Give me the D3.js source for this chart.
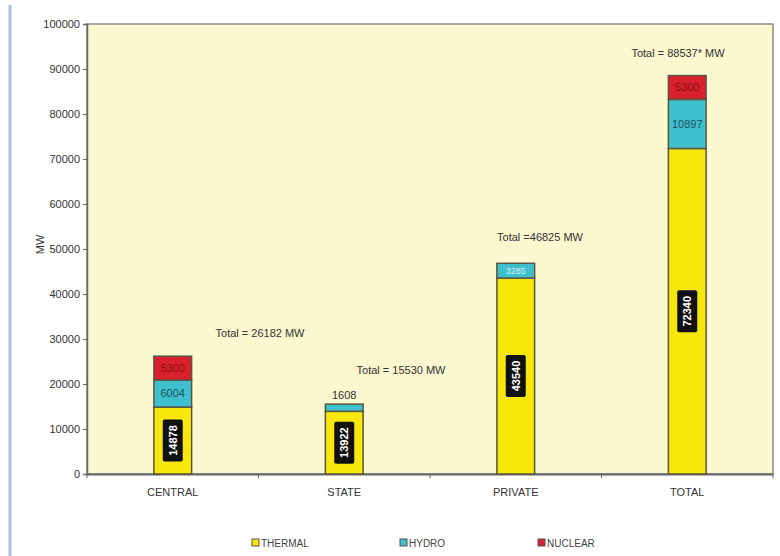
<!DOCTYPE html>
<html>
<head>
<meta charset="utf-8">
<script src="https://d3js.org/d3.v7.min.js"></script>
<style>
body { margin: 0; background: #fff; }
text { font-family: "Liberation Sans", Arial, sans-serif; }
</style>
</head>
<body>
<script>
// width and height of the page
var W = 780, H = 556;

// chart data
var sectors = ["CENTRAL", "STATE", "PRIVATE", "TOTAL"];
var thermal = [14878, 13922, 43540, 72340];
var hydro = [6004, 1608, 3285, 10897];
var nuclear = [5300, 0, 0, 5300];
var totalLabels = ["Total = 26182 MW", "Total = 15530 MW", "Total =46825 MW", "Total = 88537* MW"];
var yTicks = [0, 10000, 20000, 30000, 40000, 50000, 60000, 70000, 80000, 90000, 100000];
var seriesNames = ["THERMAL", "HYDRO", "NUCLEAR"];
var colors = ["#f7e70c", "#3fc0cf", "#d8202e"];

var margin = {left: 87, right: 7, top: 24, bottom: 82};

var svg = d3.select("body").append("svg")
	.attr("width", W)
	.attr("height", H);

// the blue line at the left of the picture
svg.append("line")
	.attr("x1", 10).attr("x2", 10)
	.attr("y1", 5).attr("y2", H)
	.style("stroke", "#a9c2de")
	.style("stroke-width", 3);

var x = d3.scaleBand()
	.domain(sectors)
	.range([margin.left, W - margin.right])
	.paddingInner(0.78)
	.paddingOuter(0.39);

var y = d3.scaleLinear()
	.domain([0, 100000])
	.range([H - margin.bottom, margin.top]);

// plot background
svg.append("rect")
	.attr("x", margin.left)
	.attr("y", margin.top)
	.attr("width", W - margin.right - margin.left)
	.attr("height", y(0) - margin.top)
	.style("fill", "#fbf7cf")
	.style("stroke", "#8a8a80")
	.style("stroke-width", 1.5);

// y axis
var yAxis = svg.append("g")
	.attr("transform", "translate(" + margin.left + ",0)")
	.call(d3.axisLeft(y).tickValues(yTicks).tickSize(4).tickFormat(d3.format("d")));
yAxis.select(".domain").style("stroke", "#666").style("stroke-width", 1.5);
yAxis.selectAll("line").style("stroke", "#666");
yAxis.selectAll("text").style("font-size", "11px").style("fill", "#333").attr("x", -7);

svg.append("text")
	.attr("transform", "translate(44," + y(51000) + ") rotate(-90)")
	.attr("text-anchor", "middle")
	.style("font-size", "11px")
	.style("fill", "#333")
	.text("MW");

// x axis
var xAxis = svg.append("g")
	.attr("transform", "translate(0," + y(0) + ")")
	.call(d3.axisBottom(x).tickSize(0).tickPadding(14));
xAxis.select(".domain").style("stroke", "#666").style("stroke-width", 2);
xAxis.selectAll("text").style("font-size", "11px").style("fill", "#333");

// small ticks between the categories
var step = x.step();
var bounds = d3.range(5).map(function(i) { return margin.left + i * step; });
svg.selectAll("line.xtick")
	.data(bounds)
	.enter().append("line")
	.attr("class", "xtick")
	.attr("x1", function(d) { return d; }).attr("x2", function(d) { return d; })
	.attr("y1", y(0)).attr("y2", y(0) + 4)
	.style("stroke", "#666");

// stacked segments
var rows = sectors.map(function(s, i) {
	return {name: s, thermal: thermal[i], hydro: hydro[i], nuclear: nuclear[i]};
});
var stack = d3.stack().keys(["thermal", "hydro", "nuclear"])(rows);

var layers = svg.selectAll("g.layer")
	.data(stack)
	.enter().append("g")
	.attr("class", "layer")
	.style("fill", function(d, i) { return colors[i]; });

layers.selectAll("rect")
	.data(function(d) { return d.filter(function(p) { return p[1] > p[0]; }); })
	.enter().append("rect")
	.attr("x", function(d) { return x(d.data.name); })
	.attr("width", x.bandwidth())
	.attr("y", function(d) { return y(d[1]); })
	.attr("height", function(d) { return y(d[0]) - y(d[1]); })
	.style("stroke", "#5a5540")
	.style("stroke-width", 1.5);

// thermal labels: black boxes with rotated white text
var thermalLabels = svg.selectAll("g.tlab")
	.data(stack[0])
	.enter().append("g")
	.attr("class", "tlab")
	.attr("transform", function(d) {
		return "translate(" + (x(d.data.name) + x.bandwidth() / 2) + "," + y((d[0] + d[1]) / 2) + ") rotate(-90)";
	});
thermalLabels.append("rect")
	.attr("x", -21).attr("y", -10)
	.attr("width", 42).attr("height", 20)
	.attr("rx", 2)
	.style("fill", "#111");
thermalLabels.append("text")
	.attr("text-anchor", "middle")
	.attr("dy", "0.35em")
	.style("font-size", "11px")
	.style("font-weight", "bold")
	.style("fill", "#fff")
	.text(function(d) { return d.data.thermal; });

// hydro labels (inside, or above when the segment is thin)
svg.selectAll("text.hlab")
	.data(stack[1])
	.enter().append("text")
	.attr("class", "hlab")
	.attr("x", function(d) { return x(d.data.name) + x.bandwidth() / 2; })
	.attr("y", function(d) {
		return d.data.hydro < 2000 ? y(d[1]) - 5 : y((d[0] + d[1]) / 2);
	})
	.attr("dy", function(d) { return d.data.hydro < 2000 ? "0" : "0.35em"; })
	.attr("text-anchor", "middle")
	.style("font-size", function(d) { return d.data.hydro < 4000 && d.data.hydro >= 2000 ? "9px" : "11px"; })
	.style("fill", function(d) { return d.data.hydro < 2000 ? "#333" : (d.data.hydro < 4000 ? "#d8f4f7" : "#1c4f5c"); })
	.text(function(d) { return d.data.hydro; });

// nuclear labels
svg.selectAll("text.nlab")
	.data(stack[2].filter(function(d) { return d.data.nuclear > 0; }))
	.enter().append("text")
	.attr("class", "nlab")
	.attr("x", function(d) { return x(d.data.name) + x.bandwidth() / 2; })
	.attr("y", function(d) { return y((d[0] + d[1]) / 2); })
	.attr("dy", "0.35em")
	.attr("text-anchor", "middle")
	.style("font-size", "11px")
	.style("fill", "#8a1018")
	.text(function(d) { return d.data.nuclear; });

// total annotations
var totalPos = [[260, 30400], [401, 22300], [540, 51700], [678, 92600]];
svg.selectAll("text.total")
	.data(totalLabels)
	.enter().append("text")
	.attr("class", "total")
	.attr("x", function(d, i) { return totalPos[i][0]; })
	.attr("y", function(d, i) { return y(totalPos[i][1]); })
	.attr("text-anchor", "middle")
	.style("font-size", "11px")
	.style("fill", "#333")
	.text(function(d) { return d; });

// legend
var legendX = [252, 400, 538];
var legend = svg.selectAll("g.legend")
	.data(seriesNames)
	.enter().append("g")
	.attr("class", "legend")
	.attr("transform", function(d, i) { return "translate(" + legendX[i] + ",543)"; });
legend.append("rect")
	.attr("x", 0).attr("y", -4)
	.attr("width", 7).attr("height", 7)
	.style("fill", function(d, i) { return colors[i]; })
	.style("stroke", "#555")
	.style("stroke-width", 1);
legend.append("text")
	.attr("x", 9)
	.attr("dy", "0.35em")
	.style("font-size", "10px")
	.style("fill", "#444")
	.text(function(d) { return d; });
</script>
</body>
</html>
